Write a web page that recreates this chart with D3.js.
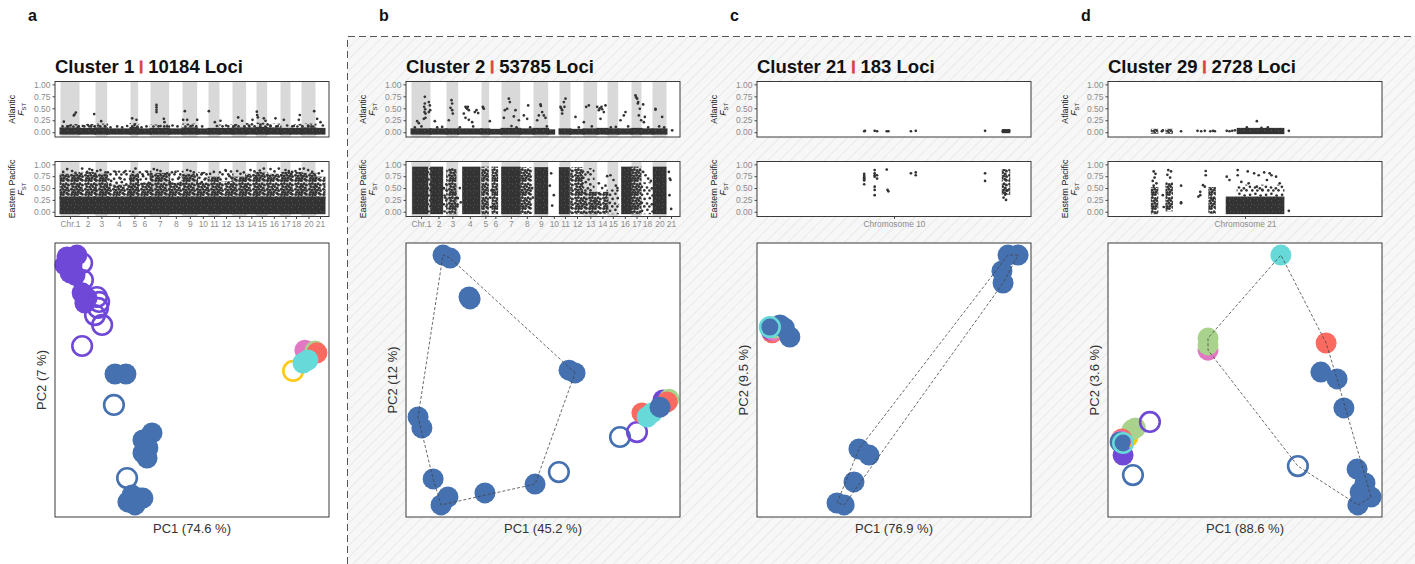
<!DOCTYPE html>
<html><head><meta charset="utf-8">
<script src="https://cdn.jsdelivr.net/npm/d3@7"></script>
<style>body{margin:0;background:#fff;} text{font-family:"Liberation Sans",Arial,Helvetica,sans-serif;white-space:pre;}</style>
</head><body><svg id="fig" width="1415" height="564"></svg>
<script>
// ---------------- data ----------------
const chromIds = [1,2,3,4,5,6,7,8,9,10,11,12,13,14,15,16,17,18,20,21];
const chromLabels = ["Chr.1","2","3","4","5","6","7","8","9","10","11","12","13","14","15","16","17","18","20","21"];
const chromLengths = [57,48,35,70,23,37,56,40,44,34,33,39,41,31,32,40,30,33,42,27];
const fstTicks = [0,0.25,0.5,0.75,1];
const panelLetters = ["a","b","c","d"];
const clusterNames = ["Cluster 1","Cluster 2","Cluster 21","Cluster 29"];
const lociCounts = ["10184","53785","183","2728"];
const pc1Labels = ["PC1 (74.6 %)","PC1 (45.2 %)","PC1 (76.9 %)","PC1 (88.6 %)"];
const pc2Labels = ["PC2 (7 %)","PC2 (12 %)","PC2 (9.5 %)","PC2 (3.6 %)"];
const singleChromNames = [null,null,"Chromosome 10","Chromosome 21"];
const singleChromLengths = [null,null,34,30];
const popLabels = ["Atlantic","Eastern Pacific"];

// dense point clouds: [chr, start, end, fstLow, fstHigh, density]; single loci: [chr, pos, fst]
const aAtlBlocks = [[1,0,57,-0.03,0.08,1],[2,0,48,-0.03,0.07,1],[3,0,35,-0.03,0.08,1],[4,0,70,-0.03,0.06,1],[5,0,23,-0.03,0.09,1],[6,0,37,-0.03,0.06,1],[7,0,56,-0.03,0.07,1],[8,0,40,-0.03,0.06,1],[9,0,44,-0.03,0.08,1],[10,0,34,-0.03,0.06,1],[11,0,33,-0.03,0.07,1],[12,0,39,-0.03,0.07,1],[13,0,41,-0.03,0.08,1],[14,0,31,-0.03,0.08,1],[15,0,32,-0.03,0.09,1],[16,0,40,-0.03,0.08,1],[17,0,30,-0.03,0.07,1],[18,0,33,-0.03,0.07,1],[20,0,42,-0.03,0.08,1],[21,0,27,-0.03,0.07,1],
  [1,5,55,0.08,0.15,0.5],[2,0,48,0.07,0.15,0.5],[3,0,35,0.08,0.16,0.5],[5,0,23,0.09,0.17,0.5],[7,0,56,0.07,0.14,0.5],[9,0,44,0.08,0.16,0.5],[12,0,39,0.07,0.14,0.5],[13,0,41,0.08,0.15,0.5],[14,0,31,0.08,0.17,0.5],[15,0,32,0.09,0.18,0.5],[16,0,40,0.08,0.16,0.5],[18,0,33,0.07,0.15,0.5],[20,0,42,0.08,0.16,0.5]];
const aAtlPoints = [[1,10,.22],[1,40,.35],[1,42,.37],[1,46,.41],[1,20,.12],[1,30,.14],[1,52,.11],[2,44,.38],[2,10,.13],[2,25,.15],[2,35,.12],[3,17,.23],[3,8,.14],[3,28,.13],[4,10,.1],[4,30,.12],[4,45,.1],[4,60,.13],[5,5,.29],[5,18,.26],[5,12,.15],[6,10,.1],[6,25,.12],[7,18,.57],[7,18,.52],[7,18,.47],[7,18,.42],[7,40,.28],[7,42,.21],[7,30,.13],[7,50,.12],[8,10,.14],[8,25,.12],[9,7,.44],[9,2,.26],[9,14,.26],[9,30,.14],[10,0,.26],[10,15,.12],[11,1,.44],[11,19,.21],[11,25,.13],[12,3,.24],[12,20,.14],[13,17,.31],[13,29,.24],[13,8,.14],[14,19,.26],[14,8,.14],[15,1,.43],[15,2,.36],[15,4,.31],[15,22,.29],[15,27,.24],[15,12,.16],[16,25,.29],[16,10,.14],[16,32,.13],[17,10,.26],[17,20,.14],[18,28,.36],[18,25,.26],[18,10,.13],[20,38,.44],[20,20,.14],[20,30,.12],[21,5,.28],[21,15,.21],[21,22,.14]];
const aEPBlocks = [[1,0,57,-0.03,0.3,0.95],[1,0,57,0.3,0.78,0.72],[2,0,48,-0.03,0.3,0.95],[2,0,48,0.3,0.82,0.72],[3,0,35,-0.03,0.3,0.95],[3,0,35,0.3,0.78,0.72],[4,0,70,-0.03,0.3,0.95],[4,0,70,0.3,0.55,0.72],[4,0,70,0.55,0.85,0.4],[5,0,23,-0.03,0.3,0.95],[5,0,23,0.3,0.78,0.72],[6,0,37,-0.03,0.3,0.95],[6,0,37,0.3,0.6,0.72],[6,0,37,0.6,0.85,0.4],[7,0,56,-0.03,0.3,0.95],[7,0,56,0.3,0.8,0.72],[8,0,40,-0.03,0.3,0.95],[8,0,40,0.3,0.6,0.72],[8,0,40,0.6,0.85,0.4],[9,0,44,-0.03,0.3,0.95],[9,0,44,0.3,0.78,0.72],[10,0,34,-0.03,0.3,0.95],[10,0,34,0.3,0.6,0.72],[10,0,34,0.6,0.82,0.4],[11,0,33,-0.03,0.3,0.95],[11,0,33,0.3,0.72,0.72],[12,0,39,-0.03,0.3,0.95],[12,0,39,0.3,0.62,0.72],[12,0,39,0.62,0.86,0.4],[13,0,41,-0.03,0.3,0.95],[13,0,41,0.3,0.72,0.72],[14,0,31,-0.03,0.3,0.95],[14,0,31,0.3,0.78,0.72],[15,0,32,-0.03,0.3,0.95],[15,0,32,0.3,0.82,0.72],[16,0,40,-0.03,0.3,0.95],[16,0,40,0.3,0.78,0.72],[17,0,30,-0.03,0.3,0.95],[17,0,30,0.3,0.82,0.72],[18,0,33,-0.03,0.3,0.95],[18,0,33,0.3,0.82,0.72],[20,0,42,-0.03,0.3,0.95],[20,0,42,0.3,0.8,0.72],[21,0,27,-0.03,0.3,0.95],[21,0,27,0.3,0.72,0.72]];
const aEPPoints = [[1,20,.9],[1,35,.86],[1,45,.82],[1,8,.84],[2,8,.91],[2,23,.84],[2,38,.88],[2,30,.9],[3,15,.88],[3,30,.83],[3,5,.86],[4,25,.84],[4,55,.86],[4,40,.7],[4,12,.65],[5,15,.91],[5,8,.84],[6,27,.84],[6,15,.75],[7,10,.9],[7,30,.86],[7,50,.81],[7,20,.88],[8,19,.84],[8,30,.72],[9,14,.88],[9,34,.83],[9,24,.86],[10,15,.81],[10,25,.7],[11,16,.84],[11,5,.8],[12,18,.88],[12,30,.75],[13,14,.86],[13,34,.83],[13,24,.8],[14,13,.88],[14,25,.85],[15,22,.91],[15,10,.87],[16,10,.9],[16,35,.91],[16,22,.85],[17,15,.88],[17,25,.86],[18,15,.86],[18,28,.9],[18,5,.84],[20,7,.91],[20,32,.84],[20,20,.88],[21,10,.81],[21,20,.86]];
const bAtlBlocks = [[1,0,57,-0.03,0.06,1],[2,0,48,-0.03,0.06,1],[3,0,35,-0.03,0.06,1],[4,0,70,-0.03,0.06,1],[5,0,23,-0.03,0.06,1],[6,0,37,-0.03,0.05,1],[7,0,56,-0.03,0.07,1],[8,0,40,-0.03,0.06,1],[9,0,44,-0.03,0.07,1],[10,0,18,-0.03,0.04,1],[11,0,33,-0.03,0.06,1],[12,0,39,-0.03,0.05,1],[13,0,41,-0.03,0.06,1],[14,0,31,-0.03,0.07,1],[15,0,32,-0.03,0.06,1],[16,0,40,-0.03,0.06,1],[17,0,30,-0.03,0.07,1],[18,0,33,-0.03,0.06,1],[20,0,42,-0.03,0.06,1]];
const bAtlPoints = [[1,17,.23],[1,22,.19],[1,37,.28],[1,40,.74],[1,38,.53],[1,39,.42],[1,42,.39],[1,40,.6],[1,41,.48],[1,42,.3],[1,52,.63],[1,55,.56],[1,56,.46],[1,52,.42],[2,13,.23],[3,15,.67],[3,17,.6],[3,12,.51],[3,17,.46],[3,19,.39],[3,7,.25],[4,22,.53],[4,24,.51],[4,27,.49],[4,29,.53],[4,32,.46],[4,17,.39],[4,22,.3],[4,32,.26],[4,42,.21],[4,50,.42],[4,55,.46],[4,60,.4],[5,4,.53],[5,5,.51],[5,7,.49],[6,2,.23],[7,10,.46],[7,17,.49],[7,7,.3],[7,22,.7],[7,25,.63],[7,37,.33],[7,42,.46],[7,52,.25],[8,11,.35],[8,24,.56],[8,21,.28],[9,21,.58],[9,22,.55],[9,26,.42],[9,31,.35],[9,36,.3],[9,11,.25],[9,16,.35],[11,3,.53],[11,5,.5],[11,8,.46],[11,13,.63],[11,18,.7],[11,8,.39],[11,15,.53],[12,15,.32],[13,1,.21],[13,8,.53],[13,16,.56],[14,0,.53],[14,5,.46],[14,8,.5],[14,13,.53],[14,15,.48],[14,20,.42],[14,25,.56],[14,10,.28],[16,7,.25],[16,17,.35],[16,22,.42],[17,12,.77],[17,14,.73],[17,17,.7],[17,19,.6],[17,20,.63],[17,25,.49],[17,22,.35],[17,29,.25],[18,5,.58],[18,10,.32],[18,7,.21],[20,9,.49],[20,9,.47],[20,29,.32],[21,17,.04],[1,10,.1],[1,30,.12],[2,20,.1],[2,35,.11],[4,5,.1],[4,45,.12],[7,30,.13],[7,45,.1],[8,30,.1],[9,40,.12],[12,25,.1],[13,25,.12],[15,10,.1],[15,25,.11],[16,30,.12],[18,20,.1],[20,20,.12],[20,35,.1]];
const bEPBlocks = [[1,5,47,-0.03,0.93,1],[1,47,57,0,0.9,0.55],[2,2,35,-0.03,0.93,0.95],[2,35,48,0,0.6,0.35],[3,2,27,-0.03,0.9,0.85],[3,27,35,0,0.4,0.4],[4,15,64,-0.03,0.93,1],[5,2,19,-0.03,0.93,0.9],[6,10,24,-0.03,0.93,0.75],[7,2,54,-0.03,0.93,1],[8,3,33,-0.03,0.92,0.85],[9,6,41,-0.03,0.92,0.95],[11,1,28,-0.03,0.92,0.95],[12,2,35,-0.03,0.92,0.8],[13,1,36,-0.03,0.4,0.85],[13,1,30,0.4,0.9,0.55],[14,0,31,-0.03,0.4,0.7],[15,0,32,-0.03,0.45,0.6],[16,12,37,-0.03,0.93,0.95],[17,0,27,-0.03,0.93,0.8],[18,0,32,-0.03,0.6,0.55],[20,4,39,-0.03,0.93,1]];
const bEPPoints = [[3,30,.3],[3,33,.15],[4,5,.5],[4,8,.2],[6,3,.3],[6,5,.1],[6,7,.45],[10,9,.81],[10,12,.13],[10,17,.35],[10,5,.55],[13,35,.2],[14,5,.6],[14,15,.5],[14,30,.75],[14,25,.55],[15,9,.77],[15,18,.67],[15,25,.55],[15,30,.5],[18,5,.84],[18,12,.77],[18,20,.7],[18,28,.65],[21,7,.84],[21,10,.7],[21,12,.67],[21,9,.35],[21,14,.06],[2,40,.5],[2,44,.3],[12,36,.6],[8,36,.5],[8,38,.3]];
const cAtlBlocks = [[10,30.5,31.3,0.0,0.045,1]];
const cAtlPoints = [[10,13.3,.02],[10,13.4,.03],[10,14.6,.03],[10,14.9,.02],[10,16.1,.02],[10,16.3,.02],[10,19.1,.02],[10,19.7,.03],[10,28.3,.03],[10,30.5,.02],[10,30.7,.03],[10,30.9,.01],[10,31.1,.02],[10,31.3,.03]];
const cEPBlocks = [[10,30.5,31.3,0.38,0.88,0.9]];
const cEPPoints = [[10,13.3,.8],[10,13.3,.76],[10,13.3,.73],[10,13.3,.7],[10,13.3,.68],[10,13.3,.66],[10,13.3,.58],[10,14.6,.88],[10,14.6,.81],[10,14.6,.77],[10,14.6,.74],[10,14.6,.53],[10,14.6,.46],[10,14.6,.35],[10,14.9,.77],[10,14.9,.7],[10,16.1,.89],[10,16.2,.46],[10,16.3,.43],[10,19.1,.81],[10,19.7,.83],[10,19.7,.77],[10,28.3,.81],[10,28.3,.65],[10,30.6,.3],[10,30.9,.25],[10,30.7,.4],[10,31.1,.45],[10,30.8,.36]];
const dAtlBlocks = [[21,4.8,5.4,-0.01,0.05,0.9],[21,6.4,7.0,-0.01,0.05,0.9],[21,14.2,19.2,-0.02,0.07,1]];
const dAtlPoints = [[21,5.9,.02],[21,6.0,.04],[21,8.0,.02],[21,9.8,.03],[21,10.2,.02],[21,10.6,.03],[21,11.2,.02],[21,11.5,.03],[21,11.7,.02],[21,13.0,.03],[21,13.3,.02],[21,13.6,.03],[21,13.9,.04],[21,16.3,.23],[21,15.2,.1],[21,16.8,.09],[21,17.5,.1],[21,19.8,.03]];
const dEPBlocks = [[21,4.8,5.4,-0.03,0.5,0.7],[21,6.4,7.0,0.03,0.6,0.7],[21,11.1,11.7,-0.02,0.5,0.7],[21,13.0,19.2,-0.03,0.3,0.95],[21,14.2,19.2,0.3,0.55,0.45]];
const dEPPoints = [[21,5.0,.85],[21,5.2,.8],[21,5.1,.72],[21,4.9,.65],[21,5.3,.6],[21,5.0,.55],[21,6.6,.88],[21,6.9,.85],[21,6.5,.78],[21,6.8,.72],[21,6.0,.35],[21,6.1,.1],[21,8.0,.55],[21,8.0,.2],[21,8.0,.18],[21,10.7,.86],[21,10.7,.77],[21,10.4,.56],[21,10.6,.53],[21,10.1,.42],[21,10.1,.35],[21,9.9,.32],[21,11.3,.3],[21,11.5,.25],[21,13.3,.67],[21,13.0,.74],[21,14.2,.88],[21,14.2,.77],[21,15.3,.85],[21,16.0,.81],[21,16.5,.77],[21,17.1,.83],[21,17.7,.81],[21,17.9,.77],[21,18.4,.74],[21,18.8,.6],[21,14.6,.63],[21,15.4,.6],[21,16.3,.53],[21,17.4,.67],[21,16.9,.46],[21,19.8,.02]];

// PCA: [PC1, PC2, group, filled, inHull]
const pcaA = [[4.4,94.9,"purple",1,0],[8.0,95.6,"purple",1,0],[3.6,92.0,"purple",1,0],[6.2,92.0,"purple",1,0],[5.5,89.1,"purple",1,0],[7.3,88.3,"purple",1,0],[9.9,92.7,"purple",0,0],[10.2,86.5,"purple",0,0],[9.9,81.8,"purple",1,0],[11.7,79.9,"purple",1,0],[10.9,78.1,"purple",1,0],[15.3,80.3,"purple",0,0],[16.1,78.5,"purple",0,0],[15.7,76.3,"purple",0,0],[14.6,73.7,"purple",0,0],[17.2,70.1,"purple",0,0],[9.9,62.4,"purple",0,0],[21.9,52.2,"blue",1,0],[25.9,52.2,"blue",1,0],[21.5,40.9,"blue",0,0],[35.4,30.7,"blue",1,0],[32.1,28.1,"blue",1,0],[33.9,25.2,"blue",1,0],[32.1,23.4,"blue",1,0],[33.6,21.5,"blue",1,0],[26.3,14.2,"blue",0,0],[28.1,8.0,"blue",1,0],[31.0,6.9,"blue",1,0],[29.2,4.4,"blue",1,0],[26.6,5.5,"blue",1,0],[32.1,6.9,"blue",1,0],[86.9,53.3,"yellow",0,0],[91.2,60.9,"pink",1,0],[94.9,60.6,"green",1,0],[95.6,59.9,"red",1,0],[92.3,57.3,"cyan",1,0],[90.5,56.2,"cyan",1,0]];
const pcaB = [[13.5,95.6,"blue",1,1],[16.1,94.5,"blue",1,1],[23.0,80.3,"blue",1,1],[23.4,79.6,"blue",1,1],[59.5,53.6,"blue",1,1],[61.7,52.6,"blue",1,1],[4.4,36.5,"blue",1,1],[5.8,32.5,"blue",1,1],[9.9,13.9,"blue",1,1],[15.3,7.3,"blue",1,1],[12.8,4.4,"blue",1,1],[28.8,8.8,"blue",1,1],[47.1,12.0,"blue",1,1],[55.8,16.4,"blue",0,0],[78.1,29.2,"blue",0,0],[84.3,31.0,"purple",0,0],[86.1,38.0,"red",1,0],[93.8,42.7,"purple",1,0],[96.0,43.0,"green",1,0],[95.3,42.0,"red",1,0],[88.0,36.5,"cyan",1,0],[89.8,38.0,"cyan",1,0],[92.7,40.1,"blue",1,0]];
const pcaC = [[5.5,67.2,"red",1,0],[5.1,68.2,"purple",1,0],[6.0,68.0,"pink",1,0],[6.5,69.0,"green",1,0],[12.0,65.7,"blue",1,0],[8.4,70.1,"blue",1,0],[10.0,69.0,"blue",1,0],[4.7,69.3,"blue",1,0],[4.7,69.3,"cyan",0,0],[95.3,95.6,"blue",1,1],[91.6,95.6,"blue",1,1],[89.4,89.8,"blue",1,1],[89.8,85.4,"blue",1,1],[37.2,24.8,"blue",1,1],[40.9,22.6,"blue",1,1],[35.4,12.8,"blue",1,1],[29.2,5.1,"blue",1,1],[31.8,4.4,"blue",1,1]];
const pcaD = [[63.1,95.6,"cyan",1,1],[36.5,60.9,"pink",1,1],[36.5,65.3,"green",1,1],[36.5,62.8,"green",1,1],[79.6,63.5,"red",1,1],[77.7,52.9,"blue",1,1],[83.6,50.4,"blue",1,1],[86.1,39.8,"blue",1,1],[90.9,17.5,"blue",1,1],[93.8,12.4,"blue",1,1],[92.0,9.1,"blue",1,1],[96.0,7.3,"blue",1,1],[91.2,4.4,"blue",1,1],[69.3,18.6,"blue",0,1],[5.5,22.6,"purple",1,0],[7.3,29.2,"yellow",1,0],[8.8,31.8,"green",1,0],[10.0,32.5,"green",1,0],[5.0,28.5,"red",1,0],[4.6,27.8,"pink",1,0],[4.4,27.4,"blue",1,0],[5.5,27.0,"cyan",0,0],[15.3,34.7,"purple",0,0],[9.1,15.3,"blue",0,0]];

const groupColors = {blue:"#4571b0",purple:"#6f48d8",red:"#fa6a60",green:"#a9d38c",cyan:"#67d9d8",pink:"#e277c4",yellow:"#ffc915"};

// ---------------- drawing ----------------
const svg = d3.select("#fig");
const defs = svg.append("defs");
const pat = defs.append("pattern").attr("id","hatch").attr("patternUnits","userSpaceOnUse")
  .attr("width",8).attr("height",8).attr("patternTransform","rotate(45)");
pat.append("rect").attr("width",8).attr("height",8).attr("fill","#f7f7f7");
pat.append("line").attr("x1",0.5).attr("y1",0).attr("x2",0.5).attr("y2",8).attr("stroke","#e9e9e9").attr("stroke-width",1);

// point-cloud textures used to fill dense loci regions
function dotPattern(id, size, dots, r, bg) {
  const p = defs.append("pattern").attr("id",id).attr("patternUnits","userSpaceOnUse").attr("width",size).attr("height",size);
  if (bg) p.append("rect").attr("width",size).attr("height",size).attr("fill",bg);
  p.selectAll(null).data(dots).join("circle").attr("cx",d=>d[0]).attr("cy",d=>d[1]).attr("r",r)
    .attr("fill", bg ? "#fff" : "#333").attr("fill-opacity", bg ? 0.35 : 1);
}
dotPattern("cloudDense", 7, [[1.5,2.0],[4.6,4.8],[5.8,1.2]], 0.45, "#333");
dotPattern("cloudMed", 14, [[1.6,2.1],[4.3,1.5],[7.2,2.6],[10.1,1.7],[12.4,3.0],[2.8,4.6],[5.6,5.1],[8.7,4.4],[11.3,5.9],[1.5,7.3],[4.1,7.9],[6.9,7.2],[9.6,8.1],[12.5,8.6],[2.6,10.2],[5.4,10.6],[8.1,10.0],[10.9,11.2],[1.7,12.5],[4.6,12.4],[7.3,12.5],[12.3,12.2]], 1.5, null);
dotPattern("cloudSparse", 16, [[2.1,2.8],[7.4,1.8],[12.6,3.5],[4.6,6.9],[9.8,6.2],[14.3,8.4],[1.9,10.8],[7.0,11.5],[11.9,12.3],[4.3,14.4],[9.4,14.5],[14.5,14.3]], 1.35, null);
const cloudFill = d => d >= 0.93 ? "url(#cloudDense)" : d >= 0.65 ? "url(#cloudMed)" : "url(#cloudSparse)";

svg.append("rect").attr("x",347.5).attr("y",36.5).attr("width",1415-347.5).attr("height",564-36.5).attr("fill","url(#hatch)");
svg.append("path").attr("d","M347.5,564V36.5H1415").attr("fill","none").attr("stroke","#555")
  .attr("stroke-width",1).attr("stroke-dasharray","7,4");

const chromStart = new Map();
let acc = 0;
chromIds.forEach((c,i)=>{chromStart.set(c,acc); acc += chromLengths[i];});
const genomeTotal = acc;

const W = 274;
const panelLeft = [55,406,757,1108];

function manhattan(L, top, h, blocks, points, pi, popName, showX) {
  const g = svg.append("g");
  const y = d3.scaleLinear().domain([-0.1,1.06]).range([top+h, top]);
  const genome = singleChromNames[pi] === null;
  let x, xOf;
  if (genome) {
    x = d3.scaleLinear().domain([0,genomeTotal]).range([L+5.5, L+269.5]);
    xOf = (c,p) => x(chromStart.get(c)+p);
  } else {
    x = d3.scaleLinear().domain([0,singleChromLengths[pi]]).range([L, L+W]);
    xOf = (c,p) => x(p);
  }
  g.append("rect").attr("x",L).attr("y",top).attr("width",W).attr("height",h).attr("fill","#fff");
  if (genome) {
    g.selectAll(null).data(chromIds.filter((c,i)=>i%2===0)).join("rect")
      .attr("x",c=>xOf(c,0)).attr("width",c=>xOf(c,chromLengths[chromIds.indexOf(c)])-xOf(c,0))
      .attr("y",top).attr("height",h).attr("fill","#d9d9d9");
  }
  g.selectAll(null).data(blocks).join("rect")
    .attr("x",d=>xOf(d[0],d[1])-1).attr("width",d=>xOf(d[0],d[2])-xOf(d[0],d[1])+2)
    .attr("y",d=>y(d[4])-1).attr("height",d=>y(d[3])-y(d[4])+2)
    .attr("fill",d=>cloudFill(d[5]));
  g.selectAll(null).data(points).join("circle")
    .attr("cx",d=>xOf(d[0],d[1])).attr("cy",d=>y(d[2])).attr("r",1.35).attr("fill","#333");
  g.append("rect").attr("x",L).attr("y",top).attr("width",W).attr("height",h)
    .attr("fill","none").attr("stroke","#3a3a3a").attr("stroke-width",1);
  const ax = g.append("g").attr("transform",`translate(${L},0)`)
    .call(d3.axisLeft(y).tickValues(fstTicks).tickFormat(d3.format(".2f")).tickSize(2.5).tickPadding(2));
  ax.select(".domain").remove();
  ax.selectAll("line").attr("stroke","#444");
  ax.selectAll("text").attr("font-size",8.5).attr("fill","#8c8c8c").attr("font-family",null);
  const lg = svg.append("g").attr("transform",`translate(${L-40},${top+h/2}) rotate(-90)`);
  lg.append("text").attr("text-anchor","middle").attr("font-size",8.8).attr("fill","#222").text(popName);
  const t2 = lg.append("text").attr("y",8.8).attr("text-anchor","middle").attr("font-size",8.8).attr("fill","#222");
  t2.append("tspan").attr("font-style","italic").text("F");
  t2.append("tspan").attr("font-size",6).attr("dy",1.8).text("ST");
  if (showX) {
    let xa;
    if (genome) {
      const centers = chromIds.map((c,i)=>chromStart.get(c)+chromLengths[i]/2);
      xa = g.append("g").attr("transform",`translate(0,${top+h})`)
        .call(d3.axisBottom(x).tickValues(centers).tickFormat((d,i)=>chromLabels[i]).tickSize(2.5).tickPadding(2));
    } else {
      xa = g.append("g").attr("transform",`translate(0,${top+h})`)
        .call(d3.axisBottom(x).tickValues([singleChromLengths[pi]/2]).tickFormat(()=>singleChromNames[pi]).tickSize(2.5).tickPadding(2));
    }
    xa.select(".domain").remove();
    xa.selectAll("line").attr("stroke","#444");
    xa.selectAll("text").attr("font-size",8.4).attr("fill","#8c8c8c").attr("font-family",null);
  }
}

function pcaPlot(L, data, pi) {
  const g = svg.append("g");
  const top = 243, bottom = 517;
  const x = d3.scaleLinear().domain([0,100]).range([L, L+W]);
  const y = d3.scaleLinear().domain([0,100]).range([bottom, top]);
  g.append("rect").attr("x",L).attr("y",top).attr("width",W).attr("height",bottom-top).attr("fill","#fff");
  g.selectAll(null).data(data).join("circle")
    .attr("cx",d=>x(d[0])).attr("cy",d=>y(d[1]))
    .attr("r",d=>d[3]?10.5:9.8)
    .attr("fill",d=>d[3]?groupColors[d[2]]:"none")
    .attr("stroke",d=>d[3]?"none":groupColors[d[2]])
    .attr("stroke-width",2.6);
  const hullPts = data.filter(d=>d[4]===1).map(d=>[x(d[0]),y(d[1])]);
  if (hullPts.length >= 3) {
    const hull = d3.polygonHull(hullPts);
    g.append("path").attr("d","M"+hull.map(p=>p.join(",")).join("L")+"Z")
      .attr("fill","none").attr("stroke","#444").attr("stroke-width",0.8).attr("stroke-dasharray","3,2");
  }
  g.append("rect").attr("x",L).attr("y",top).attr("width",W).attr("height",bottom-top)
    .attr("fill","none").attr("stroke","#3a3a3a").attr("stroke-width",1);
  svg.append("text").attr("x",L+W/2).attr("y",533).attr("text-anchor","middle")
    .attr("font-size",13).attr("fill","#333").text(pc1Labels[pi]);
  svg.append("text").attr("transform",`translate(${L-9.5},${(top+bottom)/2}) rotate(-90)`)
    .attr("text-anchor","middle").attr("font-size",13).attr("fill","#333").text(pc2Labels[pi]);
}

const atlData = [[aAtlBlocks,aAtlPoints],[bAtlBlocks,bAtlPoints],[cAtlBlocks,cAtlPoints],[dAtlBlocks,dAtlPoints]];
const epData = [[aEPBlocks,aEPPoints],[bEPBlocks,bEPPoints],[cEPBlocks,cEPPoints],[dEPBlocks,dEPPoints]];
const pcaData = [pcaA,pcaB,pcaC,pcaD];

panelLeft.forEach((L,pi)=>{
  svg.append("text").attr("x",L-27).attr("y",21).attr("font-size",16).attr("font-weight","bold")
    .attr("fill","#111").text(panelLetters[pi]);
  const t = svg.append("text").attr("x",L).attr("y",73).attr("font-size",18.5).attr("font-weight","bold").attr("fill","#111");
  t.append("tspan").text(clusterNames[pi] + " ");
  t.append("tspan").attr("fill","#d9443b").attr("stroke","#d9443b").attr("stroke-width",0.9)
    .attr("font-size",13.5).attr("dy",-2.7).text("|");
  t.append("tspan").attr("dy",2.7).text(" " + lociCounts[pi] + " Loci");
  manhattan(L, 81.5, 55.5, atlData[pi][0], atlData[pi][1], pi, popLabels[0], false);
  manhattan(L, 161.5, 55, epData[pi][0], epData[pi][1], pi, popLabels[1], true);
  pcaPlot(L, pcaData[pi], pi);
});
</script></body></html>
